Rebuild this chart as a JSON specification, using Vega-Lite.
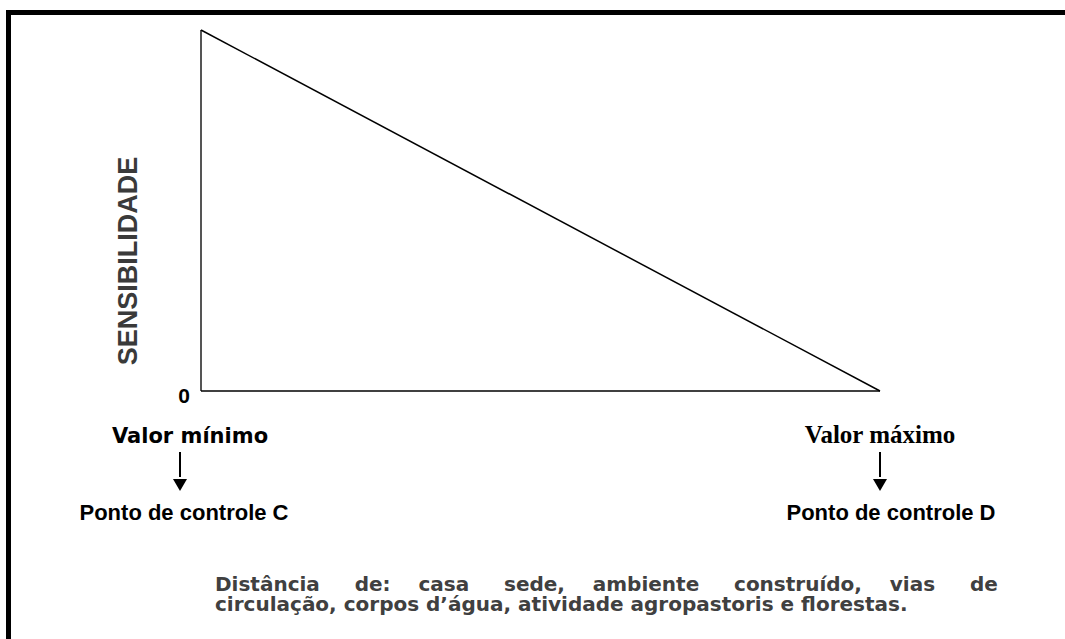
{
  "$schema": "https://vega.github.io/schema/vega-lite/v6.json",
  "width": 679,
  "height": 361,
  "autosize": {"type": "none"},
  "padding": {"left": 201, "top": 30, "right": 185, "bottom": 248},
  "background": "white",
  "config": {"view": {"stroke": null}},
  "datasets": {
    "moldura": [{"x": -0.2835, "x2": 1.4, "y": 1.0485, "y2": -0.9}],
    "triangulo": [
      {"lado": "eixo", "x": 0, "y": 0, "x2": 0, "y2": 1},
      {"lado": "base", "x": 0, "y": 0, "x2": 1, "y2": 0},
      {"lado": "hipotenusa", "x": 0, "y": 1, "x2": 1, "y2": 0}
    ],
    "extremos": [
      {"extremo": "minimo", "x": 0, "y": 0, "valor": "Valor mínimo", "ponto": "Ponto de controle C"},
      {"extremo": "maximo", "x": 1, "y": 0, "valor": "Valor máximo", "ponto": "Ponto de controle D"}
    ],
    "eixo_y": [{"x": 0, "y": 0, "zero": "0", "titulo": "SENSIBILIDADE"}],
    "legenda": [{"x": 0, "y": 0,
      "linhas": ["Distância\u00a0\u00a0\u00a0\u00a0\u00a0de:\u00a0\u00a0\u00a0\u00a0casa\u00a0\u00a0\u00a0\u00a0\u00a0sede,\u00a0\u00a0\u00a0\u00a0ambiente\u00a0\u00a0\u00a0\u00a0\u00a0construído,\u00a0\u00a0\u00a0\u00a0vias\u00a0\u00a0\u00a0\u00a0\u00a0de",
                 "circulação, corpos d’água, atividade agropastoris e florestas."]}]
  },
  "encoding": {
    "x": {"field": "x", "type": "quantitative", "scale": {"domain": [0, 1], "nice": false, "zero": false}, "axis": null},
    "y": {"field": "y", "type": "quantitative", "scale": {"domain": [0, 1], "nice": false, "zero": false}, "axis": null}
  },
  "layer": [
    {
      "data": {"name": "moldura"},
      "mark": {"type": "rect", "filled": false, "stroke": "black", "strokeWidth": 5},
      "encoding": {"x2": {"field": "x2"}, "y2": {"field": "y2"}}
    },
    {
      "data": {"name": "triangulo"},
      "transform": [{"filter": "datum.lado === 'eixo'"}],
      "mark": {"type": "rule", "color": "#555555", "strokeWidth": 2},
      "encoding": {"x2": {"field": "x2"}, "y2": {"field": "y2"}}
    },
    {
      "data": {"name": "triangulo"},
      "transform": [{"filter": "datum.lado !== 'eixo'"}],
      "mark": {"type": "rule", "color": "black", "strokeWidth": 1.5},
      "encoding": {"x2": {"field": "x2"}, "y2": {"field": "y2"}}
    },
    {
      "data": {"name": "eixo_y"},
      "mark": {"type": "text", "font": "Liberation Sans", "fontWeight": "bold", "fontSize": 21, "color": "black", "align": "center", "baseline": "alphabetic", "dx": -17, "dy": 12},
      "encoding": {"text": {"field": "zero"}}
    },
    {
      "data": {"name": "eixo_y"},
      "mark": {"type": "text", "font": "Liberation Sans", "fontWeight": "bold", "fontSize": 27, "color": "#3a3a3a", "align": "center", "baseline": "middle", "angle": 270, "dx": 130, "dy": -72},
      "encoding": {"text": {"field": "titulo"}}
    },
    {
      "data": {"name": "extremos"},
      "transform": [{"filter": "datum.extremo === 'minimo'"}],
      "mark": {"type": "text", "font": "DejaVu Sans", "fontWeight": "bold", "fontSize": 21, "color": "black", "align": "center", "baseline": "alphabetic", "dx": -11, "dy": 52},
      "encoding": {"text": {"field": "valor"}}
    },
    {
      "data": {"name": "extremos"},
      "transform": [{"filter": "datum.extremo === 'maximo'"}],
      "mark": {"type": "text", "font": "Liberation Serif", "fontWeight": "bold", "fontSize": 25, "color": "black", "align": "center", "baseline": "alphabetic", "dx": 0, "dy": 52},
      "encoding": {"text": {"field": "valor"}}
    },
    {
      "data": {"name": "extremos"},
      "transform": [{"filter": "datum.extremo === 'minimo'"}],
      "mark": {"type": "rule", "color": "black", "strokeWidth": 2, "xOffset": -21, "yOffset": 61, "y2Offset": 86},
      "encoding": {"y2": {"field": "y"}}
    },
    {
      "data": {"name": "extremos"},
      "transform": [{"filter": "datum.extremo === 'minimo'"}],
      "mark": {"type": "point", "shape": "triangle-down", "filled": true, "color": "black", "opacity": 1, "size": 196, "xOffset": -21, "yOffset": 94}
    },
    {
      "data": {"name": "extremos"},
      "transform": [{"filter": "datum.extremo === 'maximo'"}],
      "mark": {"type": "rule", "color": "black", "strokeWidth": 2, "yOffset": 61, "y2Offset": 86},
      "encoding": {"y2": {"field": "y"}}
    },
    {
      "data": {"name": "extremos"},
      "transform": [{"filter": "datum.extremo === 'maximo'"}],
      "mark": {"type": "point", "shape": "triangle-down", "filled": true, "color": "black", "opacity": 1, "size": 196, "yOffset": 94}
    },
    {
      "data": {"name": "extremos"},
      "transform": [{"filter": "datum.extremo === 'minimo'"}],
      "mark": {"type": "text", "font": "Liberation Sans", "fontWeight": "bold", "fontSize": 22, "color": "black", "align": "center", "baseline": "alphabetic", "dx": -17, "dy": 129},
      "encoding": {"text": {"field": "ponto"}}
    },
    {
      "data": {"name": "extremos"},
      "transform": [{"filter": "datum.extremo === 'maximo'"}],
      "mark": {"type": "text", "font": "Liberation Sans", "fontWeight": "bold", "fontSize": 22, "color": "black", "align": "center", "baseline": "alphabetic", "dx": 11, "dy": 129},
      "encoding": {"text": {"field": "ponto"}}
    },
    {
      "data": {"name": "legenda"},
      "mark": {"type": "text", "font": "DejaVu Sans", "fontWeight": "bold", "fontSize": 20, "lineHeight": 20, "color": "#404040", "align": "left", "baseline": "alphabetic", "dx": 14, "dy": 200},
      "encoding": {"text": {"field": "linhas"}}
    }
  ]
}
